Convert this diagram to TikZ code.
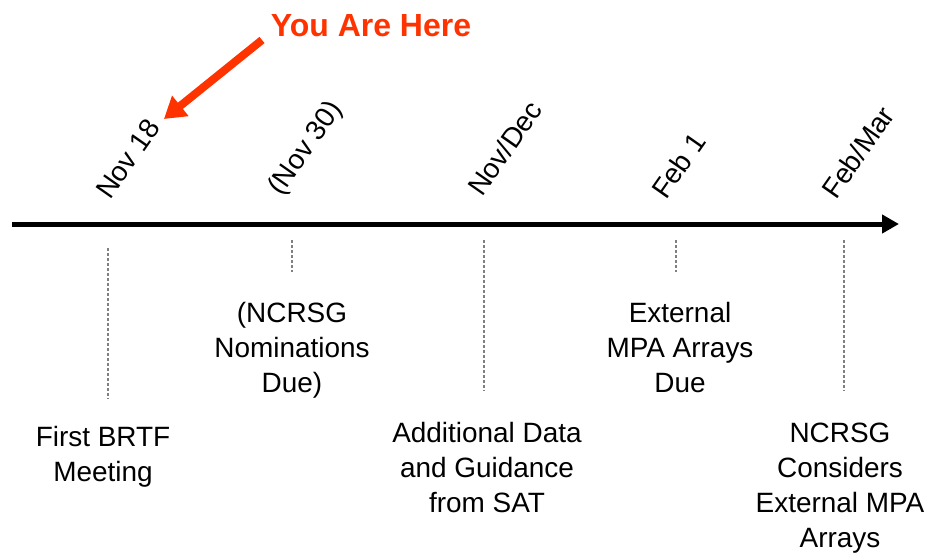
\documentclass[tikz,border=0pt]{standalone}
\usepackage{fontspec}
\setmainfont{Liberation Sans}
\usetikzlibrary{arrows.meta}
\definecolor{hereRed}{RGB}{255,51,0}
\definecolor{guideGray}{RGB}{128,128,128}
\newcommand\lblfont{\fontsize{15.9pt}{19.9pt}\selectfont}
\begin{document}
\begin{tikzpicture}[x=0.02cm,y=-0.02cm,
	datelbl/.style={rotate=55,anchor=base west,inner sep=0pt,font=\lblfont},
	eventlbl/.style={anchor=base,align=center,inner sep=0pt,font=\lblfont},
	guide/.style={guideGray,line width=0.03cm,dash pattern=on 0.06cm off 0.04cm}]
		\useasboundingbox (0,0) rectangle (940,555);
		%Axis
		\coordinate (axisL) at (12,224);
		\coordinate (axisR) at (899,224);
		\draw[line width=0.1cm,-{Triangle[length=0.34cm,width=0.36cm]}] (axisL) -- (axisR);
		%Dates
		\node[datelbl] (nov18) at (110,201) {Nov 18};
		\node[datelbl] (nov30) at (281,197) {(Nov 30)};
		\node[datelbl] (novdec) at (482,198) {Nov/Dec};
		\node[datelbl] (feb1) at (666,201) {Feb 1};
		\node[datelbl] (febmar) at (836,201) {Feb/Mar};
		%Events (placed at the baseline of their last line)
		\node[eventlbl] (brtf) at (103,481) {First BRTF\\Meeting};
		\node[eventlbl] (noms) at (292,392) {(NCRSG\\Nominations\\Due)};
		\node[eventlbl] (sat) at (487,512) {Additional Data\\and Guidance\\from SAT};
		\node[eventlbl] (arrays) at (680,392) {External\\MPA Arrays\\Due};
		\node[eventlbl] (considers) at (840,547) {NCRSG\\Considers\\External MPA\\Arrays};
		%Guides
		\coordinate (g1) at (108,248);
		\coordinate (g2) at (292,240);
		\coordinate (g3) at (484,240);
		\coordinate (g4) at (676,240);
		\coordinate (g5) at (844,240);
		\draw[guide, shorten >=0.54cm] (g1) -- (g1 |- brtf.north);
		\draw[guide, shorten >=0.59cm] (g2) -- (g2 |- noms.north);
		\draw[guide, shorten >=0.62cm] (g3) -- (g3 |- sat.north);
		\draw[guide, shorten >=0.59cm] (g4) -- (g4 |- arrays.north);
		\draw[guide, shorten >=0.64cm] (g5) -- (g5 |- considers.north);
		%You are here
		\node[anchor=base, inner sep=0pt, text=hereRed, font=\fontsize{18.2pt}{21pt}\selectfont\bfseries] (here) at (371,36) {You Are Here};
		\coordinate (hereTail) at (262,40);
		\coordinate (hereTip) at (164,119);
		\draw[hereRed, line width=0.16cm, -{Triangle[length=0.42cm,width=0.5cm]}] (hereTail) -- (hereTip);
\end{tikzpicture}
\end{document}
